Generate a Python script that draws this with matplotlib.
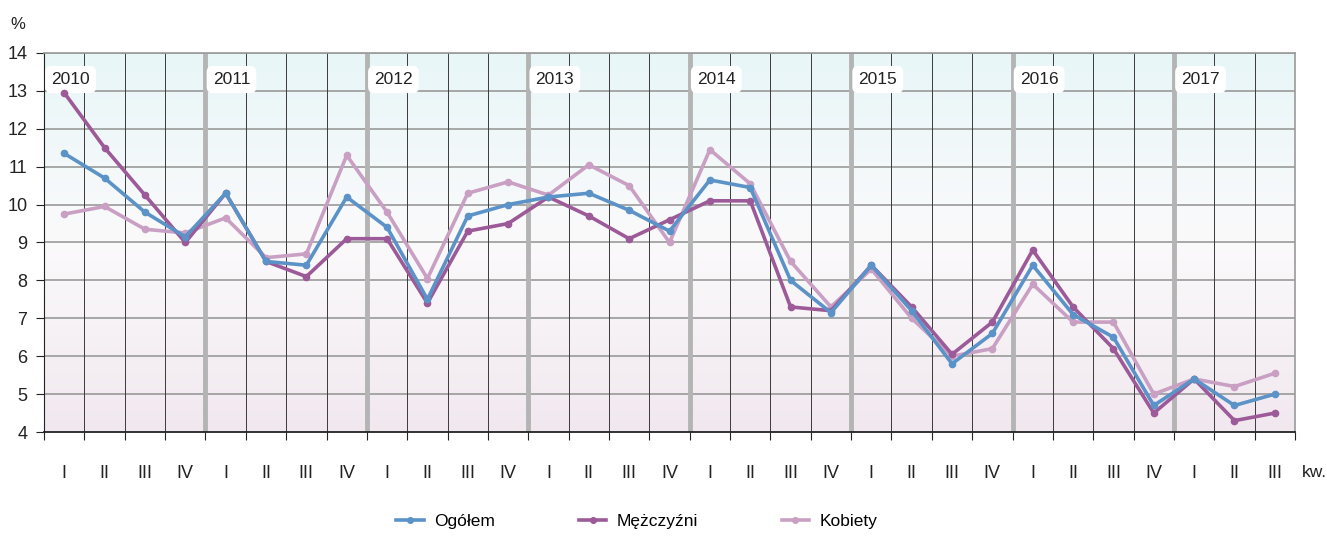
import matplotlib.pyplot as plt
import numpy as np
from matplotlib.colors import LinearSegmentedColormap

plt.rcParams['font.family'] = ['Liberation Sans Narrow', 'Liberation Sans', 'DejaVu Sans']

# Dane: stopa bezrobocia wg BAEL, kwartalnie 2010 I - 2017 III
years = ['2010', '2011', '2012', '2013', '2014', '2015', '2016', '2017']
quarters = ['I', 'II', 'III', 'IV'] * 7 + ['I', 'II', 'III']

ogolem = [11.35, 10.7, 9.8, 9.15, 10.3, 8.5, 8.4, 10.2,
          9.4, 7.5, 9.7, 10.0, 10.2, 10.3, 9.85, 9.3,
          10.65, 10.45, 8.0, 7.15, 8.4, 7.2, 5.8, 6.6,
          8.4, 7.1, 6.5, 4.7, 5.4, 4.7, 5.0]
mezczyzni = [12.95, 11.5, 10.25, 9.0, 10.3, 8.5, 8.1, 9.1,
             9.1, 7.4, 9.3, 9.5, 10.2, 9.7, 9.1, 9.6,
             10.1, 10.1, 7.3, 7.2, 8.4, 7.3, 6.05, 6.9,
             8.8, 7.3, 6.2, 4.5, 5.4, 4.3, 4.5]
kobiety = [9.75, 9.95, 9.35, 9.25, 9.65, 8.6, 8.7, 11.3,
           9.8, 8.05, 10.3, 10.6, 10.25, 11.05, 10.5, 9.0,
           11.45, 10.55, 8.5, 7.3, 8.3, 7.0, 6.0, 6.2,
           7.9, 6.9, 6.9, 5.0, 5.4, 5.2, 5.55]

n = len(quarters)
x = np.arange(n) + 0.5

fig = plt.figure(figsize=(13.27, 5.39), dpi=100)
ax = fig.add_axes([0.0332, 0.1985, 0.9427, 0.7032])

# Tlo z gradientem (u gory turkusowe, na dole rozowe)
cmap = LinearSegmentedColormap.from_list('tlo', ['#f1e8ef', '#fbfafb', '#e8f6f8'])
grad = np.linspace(0, 1, 256).reshape(-1, 1)
ax.imshow(grad, cmap=cmap, aspect='auto', origin='lower',
          extent=[0, n, 4, 14], zorder=0)

# Siatka pozioma
for v in range(5, 15):
    ax.axhline(v, color='#9a9a9a', lw=1.2, zorder=1)

# Siatka pionowa - grube szare linie na granicach lat
for i in range(1, n):
    if i % 4 == 0:
        ax.axvline(i, color='#b4b4b4', lw=3.5, zorder=1)
    else:
        ax.axvline(i, color='#3a3a3a', lw=0.7, zorder=1)

# Etykiety lat w bialych ramkach
for k, yr in enumerate(years):
    ax.text(k * 4 + 0.18, 13.3, yr, fontsize=12.5, ha='left', va='center', zorder=3,
            color='#222222',
            bbox=dict(boxstyle='round,pad=0.35', fc='white', ec='none'))

# Serie
ax.plot(x, ogolem, color='#5b93c8', lw=2.6, marker='o', ms=4.5, zorder=5, label='Ogółem')
ax.plot(x, mezczyzni, color='#9c5a98', lw=2.6, marker='o', ms=4.5, zorder=4, label='Mężczyźni')
ax.plot(x, kobiety, color='#c9a0c3', lw=2.6, marker='o', ms=4.5, zorder=3, label='Kobiety')

ax.set_xlim(0, n)
ax.set_ylim(4, 14)

# Osie
for s in ['top', 'right']:
    ax.spines[s].set_color('#9a9a9a')
    ax.spines[s].set_linewidth(1.2)
ax.spines['left'].set_color('#222222')
ax.spines['bottom'].set_color('#222222')
ax.spines['bottom'].set_linewidth(1.3)

ax.set_yticks(range(4, 15))
ax.tick_params(axis='y', direction='out', length=6, labelsize=13, pad=6, colors='#222222')
ax.set_xticks(range(0, n + 1))
ax.set_xticklabels([])
ax.tick_params(axis='x', which='major', direction='out', length=6, colors='#222222')
ax.set_xticks(x, minor=True)
ax.set_xticklabels(quarters, minor=True)
ax.tick_params(axis='x', which='minor', length=0, labelsize=13, pad=24, colors='#222222')

ax.text(n + 0.18, 2.92, 'kw.', fontsize=12.5, ha='left', va='center', color='#222222')
fig.text(0.008, 0.955, '%', fontsize=12, ha='left', va='center', color='#222222')

fig.legend(loc='lower center', bbox_to_anchor=(0.48, -0.01), ncol=3, frameon=False,
           fontsize=12.5, handlelength=1.6, handletextpad=0.6, columnspacing=4.8,
           markerscale=0.9)

fig.savefig('out.png', dpi=100)
